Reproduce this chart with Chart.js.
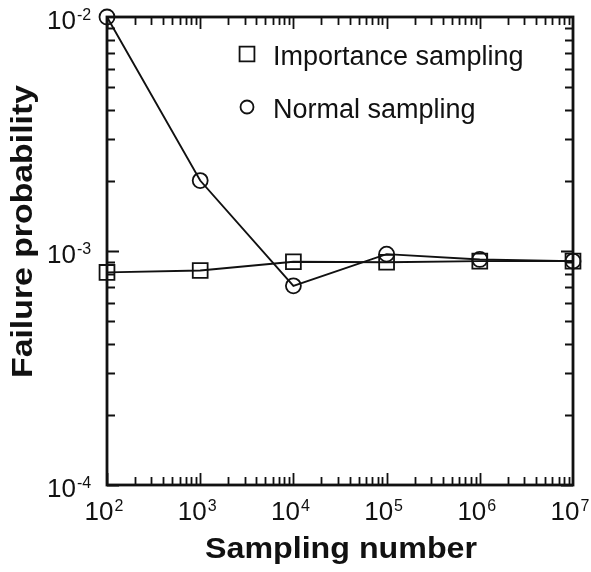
<!DOCTYPE html>
<html><head><meta charset="utf-8">
<script src="https://cdn.jsdelivr.net/npm/chart.js@4.4.1/dist/chart.umd.min.js"></script>
<style>html,body{margin:0;padding:0;background:#fff}#wrap{width:591px;height:572px;position:relative}</style>
</head><body><div id="wrap"><canvas id="c"></canvas></div>
<script>
const samplingNumbers = [1e2, 1e3, 1e4, 1e5, 1e6, 1e7];
const importanceSampling = [8.1e-4, 8.25e-4, 9.0e-4, 8.95e-4, 9.05e-4, 9.05e-4];
const normalSampling = [1.0e-2, 2.0e-3, 7.1e-4, 9.7e-4, 9.2e-4, 9.05e-4];
const xTickExponents = [2, 3, 4, 5, 6, 7];
const yTickExponents = [-4, -3, -2];
const seriesNames = ['Importance sampling', 'Normal sampling'];
const xTitle = 'Sampling number';
const yTitle = 'Failure probability';

const INK = '#111';
const FONT = '"Liberation Sans", Arial, Helvetica, sans-serif';

function drawPow(ctx, exp, x, y, align) {
  ctx.save();
  ctx.fillStyle = INK;
  ctx.textBaseline = 'alphabetic';
  ctx.textAlign = 'left';
  ctx.font = '26px ' + FONT;
  const bw = ctx.measureText('10').width;
  ctx.font = '16px ' + FONT;
  const es = String(exp);
  const ew = ctx.measureText(es).width;
  let x0 = x;
  if (align === 'center') x0 = x - (bw + 1 + ew) / 2;
  ctx.font = '26px ' + FONT;
  ctx.fillText('10', x0, y);
  ctx.font = '16px ' + FONT;
  ctx.fillText(es, x0 + bw + 1, y - 9);
  ctx.restore();
}

function fitText(ctx, text, cx, y, width, font) {
  ctx.save();
  ctx.font = font;
  const w = ctx.measureText(text).width;
  ctx.translate(cx, y);
  ctx.scale(width / w, 1);
  ctx.textAlign = 'center';
  ctx.textBaseline = 'alphabetic';
  ctx.fillStyle = INK;
  ctx.fillText(text, 0, 0);
  ctx.restore();
}

const decor = {
  id: 'decor',
  afterDatasetsDraw(chart) {
    const ctx = chart.ctx;
    const xs = chart.scales.x, ys = chart.scales.y;
    const a = chart.chartArea;
    ctx.save();
    ctx.strokeStyle = INK;
    ctx.lineWidth = 1.8;
    ctx.beginPath();
    for (let d = 2; d < 7; d++) {
      for (let k = 1; k <= 9; k++) {
        const v = k * Math.pow(10, d);
        const px = Math.round(xs.getPixelForValue(v)) + 0.5;
        const len = k === 1 ? 12 : 8;
        ctx.moveTo(px, a.bottom); ctx.lineTo(px, a.bottom - len);
        ctx.moveTo(px, a.top); ctx.lineTo(px, a.top + len);
      }
    }
    for (let d = -4; d < -2; d++) {
      for (let k = 1; k <= 9; k++) {
        const v = k * Math.pow(10, d);
        const py = Math.round(ys.getPixelForValue(v)) + 0.5;
        const len = k === 1 ? 12 : 8;
        ctx.moveTo(a.left, py); ctx.lineTo(a.left + len, py);
        ctx.moveTo(a.right, py); ctx.lineTo(a.right - len, py);
      }
    }
    ctx.stroke();
    ctx.lineWidth = 2.8;
    ctx.strokeRect(a.left, a.top, a.right - a.left, a.bottom - a.top);
    ctx.restore();

    xTickExponents.forEach(e => {
      const px = xs.getPixelForValue(Math.pow(10, e));
      drawPow(ctx, e, px - 3, 520, 'center');
    });
    yTickExponents.forEach(e => {
      const py = ys.getPixelForValue(Math.pow(10, e));
      drawPow(ctx, e, 47, py + 12, 'left');
    });

    fitText(ctx, xTitle, (a.left + a.right) / 2 + 1, 558, 272, 'bold 29px ' + FONT);
    ctx.save();
    ctx.translate(32, 231.5);
    ctx.rotate(-Math.PI / 2);
    fitText(ctx, yTitle, 0, 0, 293, 'bold 29px ' + FONT);
    ctx.restore();

    const ds = chart.data.datasets;
    const legendY = [54, 107];
    ds.forEach((d, i) => {
      ctx.save();
      ctx.strokeStyle = INK;
      ctx.fillStyle = 'rgba(0,0,0,0)';
      ctx.lineWidth = 1.8;
      Chart.helpers.drawPoint(ctx, {pointStyle: d.pointStyle, radius: i === 0 ? 10.5 : 6.5, rotation: 0, borderWidth: 1.8}, 247, legendY[i]);
      ctx.restore();
      ctx.save();
      ctx.font = '27px ' + FONT;
      ctx.fillStyle = INK;
      ctx.textBaseline = 'alphabetic';
      ctx.fillText(d.label, 273, legendY[i] + 10.5);
      ctx.restore();
    });
  }
};

const mk = (vals) => samplingNumbers.map((x, i) => ({x: x, y: vals[i]}));

new Chart(document.getElementById('c'), {
  type: 'line',
  data: {
    datasets: [
      {label: seriesNames[0], data: mk(importanceSampling), pointStyle: 'rect', pointRadius: 10.5,
       borderColor: INK, borderWidth: 1.9, pointBorderColor: INK, pointBackgroundColor: 'rgba(0,0,0,0)',
       pointBorderWidth: 1.8, fill: false, tension: 0, clip: false},
      {label: seriesNames[1], data: mk(normalSampling), pointStyle: 'circle', pointRadius: 7.5,
       borderColor: INK, borderWidth: 1.9, pointBorderColor: INK, pointBackgroundColor: 'rgba(0,0,0,0)',
       pointBorderWidth: 1.8, fill: false, tension: 0, clip: false}
    ]
  },
  options: {
    responsive: true,
    maintainAspectRatio: false,
    animation: false,
    layout: {padding: {top: 17, right: 18, left: 0, bottom: 0}},
    plugins: {legend: {display: false}, tooltip: {enabled: false}},
    scales: {
      x: {type: 'logarithmic', min: 1e2, max: 1e7,
          grid: {display: false, drawTicks: false}, border: {display: false},
          ticks: {display: false},
          afterFit: s => { s.height = 87; }},
      y: {type: 'logarithmic', min: 1e-4, max: 1e-2,
          grid: {display: false, drawTicks: false}, border: {display: false},
          ticks: {display: false},
          afterFit: s => { s.width = 107; }}
    }
  },
  plugins: [decor]
});
</script>
</body></html>
